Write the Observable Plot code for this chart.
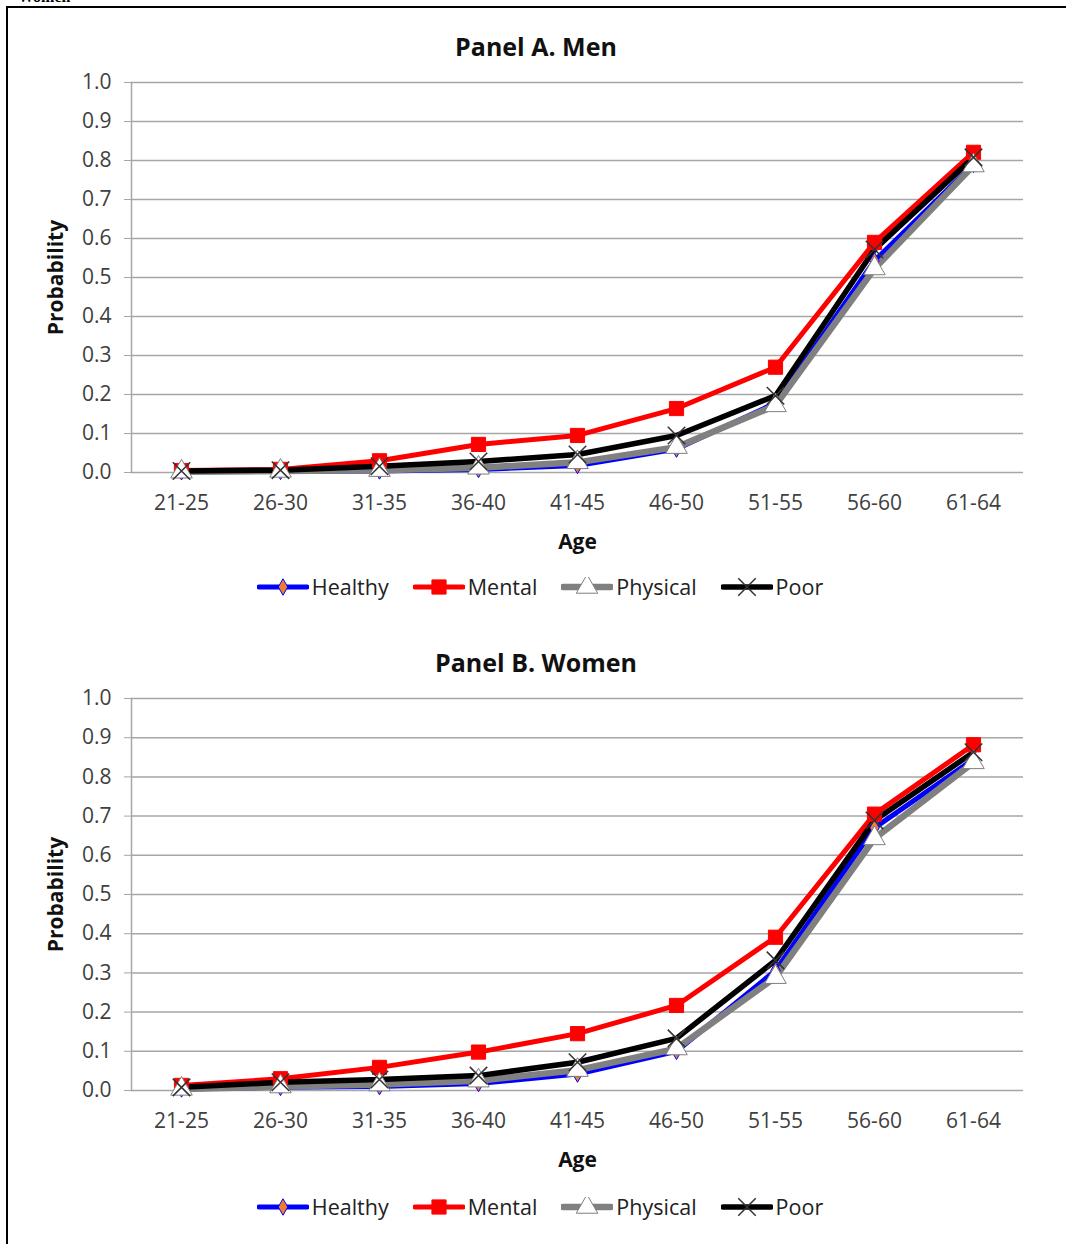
<!DOCTYPE html>
<html>
<head>
<meta charset="utf-8">
<script src="https://cdn.jsdelivr.net/npm/d3@7"></script>
<script src="https://cdn.jsdelivr.net/npm/@observablehq/plot@0.6"></script>
<style>
  html, body { margin: 0; padding: 0; background: #fff; overflow: hidden; }
  body { width: 1066px; height: 1244px; position: relative; font-family: "Open Sans", sans-serif; }
  #frame { position: absolute; left: 6px; top: 6px; width: 1080px; height: 1260px; border: 2px solid #000; box-sizing: border-box; }
  .cut { position: absolute; left: 18px; top: -12px; font-family: "Liberation Serif", serif; font-size: 16px; font-weight: bold; color: #000; }
  .title { position: absolute; left: 0; width: 1066px; text-align: center; font-weight: bold; font-size: 25px; line-height: 30px; color: #111; padding-left: 6px; box-sizing: border-box; }
  .chart { position: absolute; left: 0; }
  .legend { position: absolute; left: 0; width: 1066px; display: flex; justify-content: center; align-items: center; gap: 24px; font-size: 21.5px; line-height: 30px; color: #222; padding-left: 14px; box-sizing: border-box; }
  .legend .item { display: flex; align-items: center; }
  .legend svg { display: block; margin-right: 3px; }
  g[aria-label="x-axis label"] text, g[aria-label="y-axis label"] text { font-weight: bold; fill: #111; }
</style>
</head>
<body>
<div id="frame"></div>
<div class="cut">Women</div>
<div id="root"></div>
<script>
// ---- data ----
const ages = ["21-25","26-30","31-35","36-40","41-45","46-50","51-55","56-60","61-64"];
const seriesNames = ["Healthy", "Mental", "Physical", "Poor"];
const yTicks = [0, 0.1, 0.2, 0.3, 0.4, 0.5, 0.6, 0.7, 0.8, 0.9, 1.0];

const healthyMen  = [0.002, 0.003, 0.004, 0.008, 0.018, 0.060, 0.178, 0.543, 0.790];
const mentalMen   = [0.005, 0.008, 0.030, 0.072, 0.095, 0.164, 0.270, 0.590, 0.821];
const physicalMen = [0.002, 0.004, 0.006, 0.012, 0.026, 0.065, 0.172, 0.523, 0.787];
const poorMen     = [0.004, 0.006, 0.016, 0.028, 0.046, 0.095, 0.197, 0.572, 0.808];

const healthyWomen  = [0.004, 0.008, 0.010, 0.018, 0.042, 0.100, 0.306, 0.670, 0.845];
const mentalWomen   = [0.013, 0.030, 0.059, 0.098, 0.145, 0.217, 0.391, 0.705, 0.882];
const physicalWomen = [0.004, 0.010, 0.015, 0.025, 0.052, 0.107, 0.289, 0.643, 0.837];
const poorWomen     = [0.008, 0.021, 0.028, 0.038, 0.072, 0.133, 0.332, 0.689, 0.863];

// ---- styles per series ----
const styles = {
  Healthy:  {line: "#0000ff", width: 5, symbol: "diamond", fill: "#ED7D31", stroke: "#0000ff", r: 5},
  Mental:   {line: "#ff0000", width: 5, symbol: "square", fill: "#ff0000", stroke: "#ff0000", r: 8},
  Physical: {line: "#808080", width: 6.5, symbol: "triangle", fill: "#ffffff", stroke: "#7f7f7f", r: 8},
  Poor:     {line: "#000000", width: 5.5, symbol: "times", fill: "none", stroke: "#333333", r: 8}
};

function toRows(arrs) {
  const rows = [];
  seriesNames.forEach((s, k) => arrs[k].forEach((v, i) => rows.push({series: s, age: ages[i], value: v})));
  return rows;
}

function makePanel(title, arrs, titleTop, svgTop, legendTop, innerH) {
  const root = document.getElementById("root");
  const t = document.createElement("div");
  t.className = "title"; t.style.top = titleTop + "px"; t.textContent = title;
  root.appendChild(t);

  const rows = toRows(arrs);
  const marks = [
    Plot.ruleY(yTicks, {stroke: "#a6a6a6", strokeWidth: 1.5}),
    Plot.frame({anchor: "left", stroke: "#a6a6a6", strokeWidth: 1.5}),
    Plot.axisY(yTicks, {tickFormat: d3.format(".1f"), tickSize: 7, tickPadding: 13, stroke: "#a6a6a6",
      fontSize: 21, color: "#404040", label: "Probability", labelAnchor: "center", labelArrow: "none", labelOffset: 83}),
    Plot.axisX({tickSize: 0, tickPadding: 23, fontSize: 21, color: "#404040",
      label: "Age", labelAnchor: "center", labelArrow: "none", labelOffset: 76})
  ];
  for (const s of seriesNames) {
    const st = styles[s];
    marks.push(Plot.line(rows.filter(d => d.series === s), {x: "age", y: "value", stroke: st.line, strokeWidth: st.width, strokeLinejoin: "miter"}));
  }
  for (const s of seriesNames) {
    const st = styles[s];
    marks.push(Plot.dot(rows.filter(d => d.series === s), {x: "age", y: "value", symbol: st.symbol, r: st.r,
      fill: st.fill, stroke: st.stroke, strokeWidth: s === "Poor" ? 1.5 : 1}));
  }

  const chart = Plot.plot({
    width: 1066,
    height: 22 + innerH + 90,
    marginLeft: 131, marginRight: 43, marginTop: 22, marginBottom: 90,
    style: {fontFamily: "Open Sans, sans-serif", background: "transparent", overflow: "visible"},
    x: {type: "point", domain: ages, padding: 0.5},
    y: {domain: [0, 1]},
    marks
  });
  chart.classList.add("chart");
  chart.style.top = svgTop + "px";
  root.appendChild(chart);

  const lg = document.createElement("div");
  lg.className = "legend"; lg.style.top = legendTop + "px";
  for (const s of seriesNames) {
    const st = styles[s];
    const item = document.createElement("div");
    item.className = "item";
    const svg = d3.create("svg").attr("width", 52).attr("height", 20);
    svg.append("line").attr("x1", 2).attr("x2", 50).attr("y1", 10).attr("y2", 10)
      .attr("stroke", st.line).attr("stroke-width", st.width).attr("stroke-linecap", "round");
    const sym = {diamond: d3.symbolDiamond, square: d3.symbolSquare, triangle: d3.symbolTriangle, times: d3.symbolTimes}[st.symbol];
    svg.append("path").attr("transform", "translate(26,10)")
      .attr("d", d3.symbol(sym, Math.PI * st.r * st.r)())
      .attr("fill", st.fill).attr("stroke", st.stroke).attr("stroke-width", s === "Poor" ? 1.5 : 1);
    item.appendChild(svg.node());
    const label = document.createElement("span");
    label.textContent = s;
    item.appendChild(label);
    lg.appendChild(item);
  }
  root.appendChild(lg);
}

makePanel("Panel A. Men", [healthyMen, mentalMen, physicalMen, poorMen], 31, 60, 572, 390);
makePanel("Panel B. Women", [healthyWomen, mentalWomen, physicalWomen, poorWomen], 647, 676, 1192, 392);
</script>
</body>
</html>
